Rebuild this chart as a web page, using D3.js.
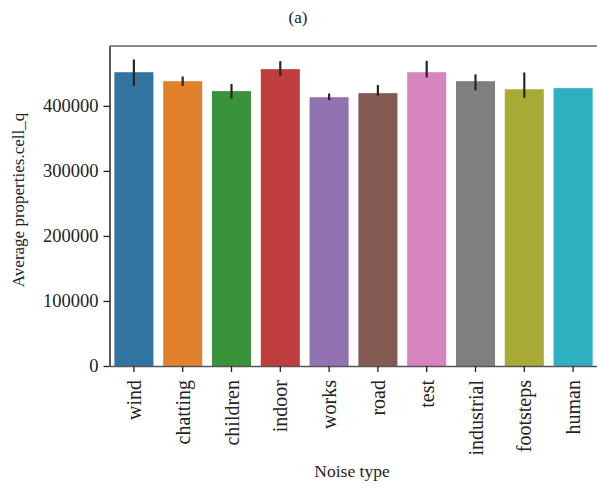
<!DOCTYPE html>
<html><head><meta charset="utf-8">
<script src="https://cdn.jsdelivr.net/npm/d3@7"></script>
<style>
html,body{margin:0;padding:0;background:#fff;}
svg{display:block;}
text{font-family:"Liberation Serif","DejaVu Serif",serif;fill:#222;}
</style></head>
<body>
<svg id="chart" width="597" height="490"></svg>
<script>
const categories = ["wind","chatting","children","indoor","works","road","test","industrial","footsteps","human"];
const values = [451700, 437900, 422600, 456400, 413300, 419500, 451700, 437900, 425500, 427200];
const errLow = [430700, 430700, 411300, 446100, 408700, 415500, 443600, 423800, 412300, null];
const errHigh = [471300, 445100, 433700, 468700, 419000, 431900, 469100, 448400, 451300, null];
const colors = ["#3274a1","#e1812c","#3a923a","#c03d3e","#9372b2","#845b53","#d684bd","#7f7f7f","#a9aa35","#2eb0c0"];
const yTicks = [0, 100000, 200000, 300000, 400000];
const yMax = 492000;

const svg = d3.select("#chart");
const m = {left:109.5, right:597.5, top:46, bottom:366};

const x = d3.scaleBand().domain(categories).range([m.left, m.right]).paddingInner(0.2).paddingOuter(0.1);
const y = d3.scaleLinear().domain([0, yMax]).range([m.bottom, m.top]);

// bars
svg.append("g").selectAll("rect").data(categories).join("rect")
  .attr("x", d => x(d)).attr("width", x.bandwidth())
  .attr("y", (d,i) => y(values[i])).attr("height", (d,i) => y(0) - y(values[i]))
  .attr("fill", (d,i) => colors[i]);

// error bars
svg.append("g").selectAll("line").data(categories.filter((d,i)=>errLow[i]!==null)).join("line")
  .attr("x1", d => x(d) + x.bandwidth()/2).attr("x2", d => x(d) + x.bandwidth()/2)
  .attr("y1", d => y(errLow[categories.indexOf(d)])).attr("y2", d => y(errHigh[categories.indexOf(d)]))
  .attr("stroke", "#262626").attr("stroke-width", 2.2);

// top spine
svg.append("line").attr("x1", m.left).attr("x2", m.right).attr("y1", m.top).attr("y2", m.top)
  .attr("stroke", "#666").attr("stroke-width", 1.5);

// y axis
const yAxis = svg.append("g").attr("transform", `translate(${m.left},0)`)
  .call(d3.axisLeft(y).tickValues(yTicks).tickFormat(d3.format("d")).tickSize(6).tickPadding(5).tickSizeOuter(0));
yAxis.select(".domain").attr("stroke", "#222").attr("stroke-width", 1.5);
yAxis.selectAll(".tick line").attr("stroke", "#222").attr("stroke-width", 1.3);
yAxis.selectAll(".tick text").style("font-size", "18.5px").style("font-family", "Liberation Serif, serif").attr("fill", "#222");

// x axis
const xAxis = svg.append("g").attr("transform", `translate(0,${m.bottom})`)
  .call(d3.axisBottom(x).tickSize(6).tickSizeOuter(0));
xAxis.select(".domain").attr("stroke", "#555").attr("stroke-width", 1.5);
xAxis.selectAll(".tick line").attr("stroke", "#222").attr("stroke-width", 1.3);
xAxis.selectAll(".tick text")
  .style("font-size", "20px").style("font-family", "Liberation Serif, serif").attr("fill", "#222")
  .attr("transform", "rotate(-90)").attr("text-anchor", "end")
  .attr("x", -14).attr("y", 0).attr("dy", "0.35em");

// axis titles
svg.append("text").attr("transform", `translate(24,200) rotate(-90)`)
  .attr("text-anchor", "middle").style("font-size", "17px").text("Average properties.cell_q");
svg.append("text").attr("x", 352).attr("y", 477).attr("text-anchor", "middle")
  .style("font-size", "17.5px").text("Noise type");
svg.append("text").attr("x", 298).attr("y", 23).attr("text-anchor", "middle")
  .style("font-size", "17px").text("(a)");
</script>
</body></html>
